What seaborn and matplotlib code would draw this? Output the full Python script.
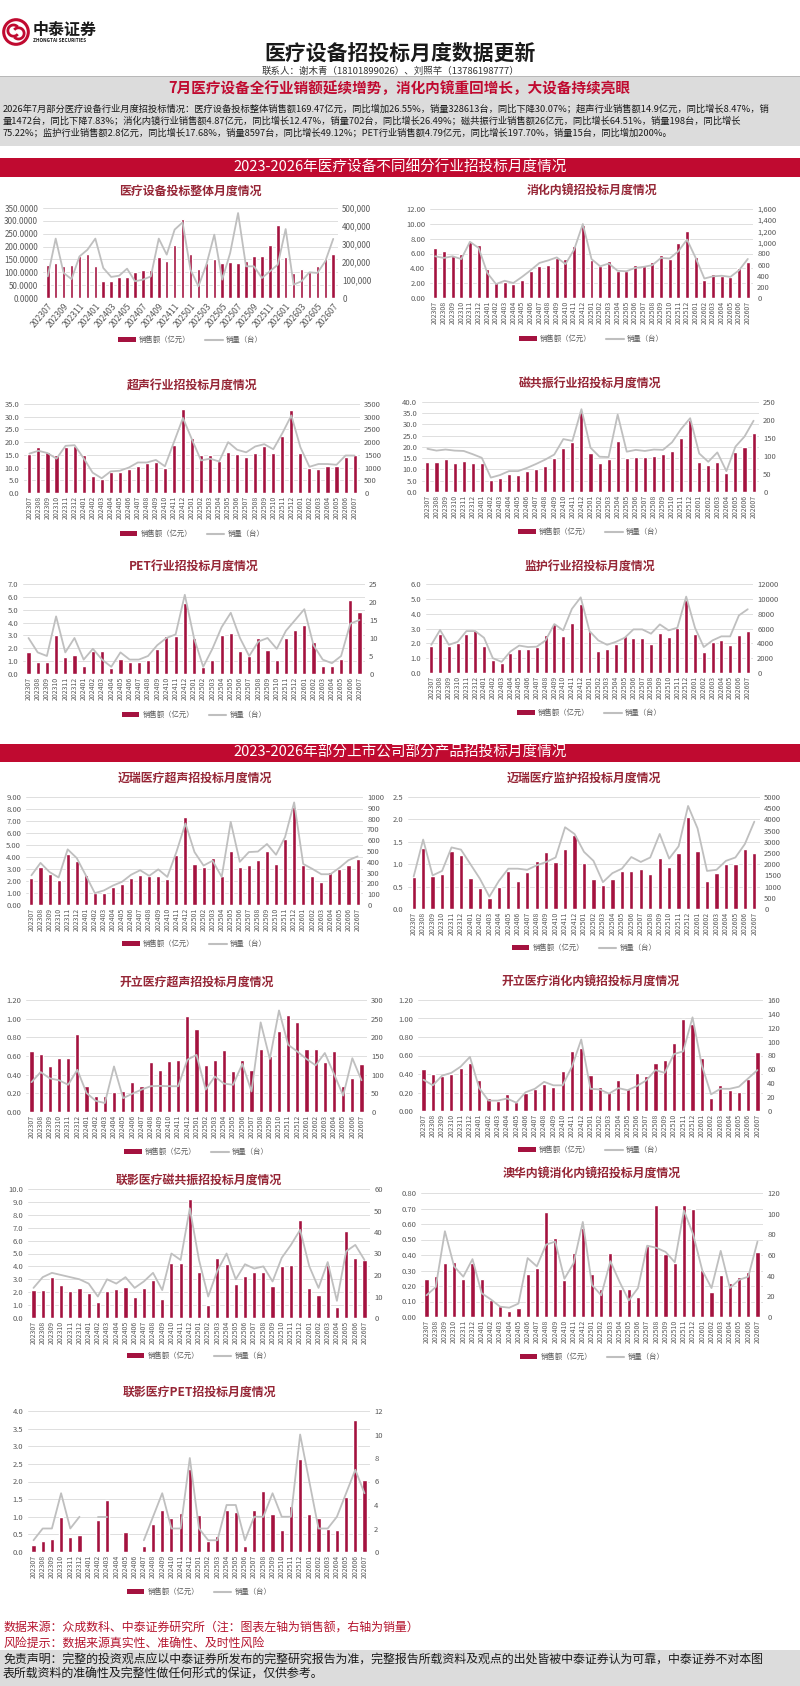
import numpy as np
import pandas as pd
import matplotlib
matplotlib.use("Agg")
import matplotlib.pyplot as plt
import seaborn as sns
from matplotlib.patches import Rectangle, Circle, Patch, Arc
from matplotlib.lines import Line2D
from matplotlib.ticker import FuncFormatter

sns.set_theme(style="white")
plt.rcParams['font.family'] = ['Noto Sans CJK SC', 'DejaVu Sans']
plt.rcParams['axes.unicode_minus'] = False

# ---------------- data ----------------
months = ["202307", "202308", "202309", "202310", "202311", "202312",
          "202401", "202402", "202403", "202404", "202405", "202406",
          "202407", "202408", "202409", "202410", "202411", "202412",
          "202501", "202502", "202503", "202504", "202505", "202506",
          "202507", "202508", "202509", "202510", "202511", "202512",
          "202601", "202602", "202603", "202604", "202605", "202606", "202607"]

total_amt = [128, 135, 125, 130, 165, 170, 123, 65, 65, 82, 80, 100, 108, 110, 160, 143, 208, 308,
             173, 112, 138, 150, 137, 140, 135, 145, 163, 165, 206, 285, 158, 98, 112, 103, 126, 155, 169.47]
total_qty = [120000, 330000, 139000, 105000, 231000, 268000, 330000, 167000, 117000, 124000, 163000, 93000,
             102000, 120000, 330000, 241000, 380000, 420000, 157000, 65000, 185000, 352000, 102000, 250000,
             472000, 176000, 176000, 111000, 148000, 185000, 383000, 74000, 93000, 143000, 139000, 204000, 328613]

endo_amt = [6.7, 6.4, 5.7, 6.0, 7.7, 7.2, 3.9, 2.1, 2.15, 1.9, 2.45, 3.6, 4.3, 4.5, 5.4, 5.2, 7.0, 9.8,
            5.1, 4.25, 5.0, 3.6, 3.7, 4.4, 4.25, 4.9, 5.8, 5.25, 7.35, 9.05, 5.5, 2.45, 3.2, 3.0, 2.8, 4.1, 4.87]
endo_qty = [750, 720, 750, 700, 1010, 900, 450, 250, 310, 270, 380, 500, 630, 675, 730, 610, 870, 1330,
            700, 570, 620, 490, 480, 540, 560, 590, 720, 710, 840, 1050, 720, 350, 390, 400, 380, 500, 702]

us_amt = [15.3, 18.1, 16.3, 14.8, 18.0, 18.5, 14.8, 6.8, 5.5, 8.4, 8.2, 9.3, 10.7, 11.7, 12.1, 9.9, 18.9, 32.9,
          21.5, 14.8, 15.0, 12.4, 16.3, 15.5, 14.0, 15.9, 18.3, 15.8, 22.5, 32.5, 15.8, 9.9, 9.3, 10.7, 10.7, 14.0, 14.9]
us_qty = [1550, 1660, 1570, 1350, 1855, 1880, 1370, 800, 580, 850, 875, 1000, 1200, 1200, 1300, 1050, 2000, 2950,
          2100, 1280, 1350, 1240, 2000, 1700, 1600, 1830, 1920, 1720, 2350, 3050, 1800, 1030, 1140, 1140, 1110, 1475, 1472]

mri_amt = [13.4, 13.3, 14.8, 13.0, 13.9, 12.7, 13.1, 5.5, 6.3, 7.8, 7.6, 9.4, 10.4, 11.5, 15.2, 19.4, 22.1, 35.4,
           17.5, 12.7, 14.6, 22.8, 15.2, 15.4, 15.7, 16.0, 16.7, 18.4, 23.9, 32.1, 13.4, 12.2, 13.3, 8.5, 17.6, 20.0, 26.0]
mri_qty = [120, 115, 118, 115, 114, 105, 95, 40, 47, 58, 58, 67, 78, 90, 104, 147, 142, 230,
           123, 98, 97, 215, 112, 117, 114, 118, 117, 138, 175, 205, 107, 84, 110, 58, 126, 154, 198]

pet_amt = [1.68, 0.9, 0.9, 3.05, 1.35, 1.5, 0.65, 1.8, 1.75, 0.5, 1.15, 0.9, 0.95, 1.05, 1.92, 2.93, 2.92, 5.55,
           2.77, 0.52, 1.12, 3.06, 3.2, 1.75, 1.38, 2.8, 1.9, 1.07, 2.8, 3.45, 3.82, 2.5, 0.6, 0.6, 1.2, 5.78, 4.79]
pet_qty = [10, 6, 5, 16, 6, 10, 4, 7, 4, 2, 6, 4, 4, 5, 8, 10, 11, 22,
           10, 2, 7, 13, 17, 10, 5, 9, 10, 7, 12, 15, 18, 8, 4, 3, 5, 14, 15]

mon_amt = [1.8, 2.6, 1.8, 2.0, 2.65, 2.9, 1.85, 0.9, 0.7, 1.35, 1.65, 1.6, 1.72, 2.55, 3.3, 2.47, 3.4, 4.67,
           2.8, 1.5, 1.65, 1.93, 2.52, 2.38, 2.38, 1.98, 2.67, 2.4, 3.05, 4.9, 2.66, 1.42, 2.1, 2.2, 1.88, 2.58, 2.8]
mon_qty = [3800, 5800, 3800, 4200, 5650, 5650, 4750, 2000, 1500, 2900, 3700, 3500, 3550, 4400, 6600, 5750, 8650, 10200,
           5650, 4400, 3800, 4200, 4750, 5880, 5880, 5300, 6550, 5750, 6100, 10300, 6100, 3500, 4400, 4940, 4940, 7770, 8597]

mindray_us_amt = [2.28, 3.15, 2.62, 2.12, 4.23, 3.68, 2.53, 1.03, 1.03, 1.5, 1.78, 2.28, 2.53, 2.4, 2.45, 2.17, 4.15, 7.3,
                  3.45, 3.15, 3.95, 2.4, 4.48, 3.2, 3.31, 3.73, 4.51, 3.4, 5.49, 8.19, 3.34, 2.45, 1.89, 2.76, 3.0, 3.37, 3.82]
mindray_us_qty = [275, 390, 305, 255, 515, 435, 275, 110, 135, 180, 215, 280, 322, 270, 330, 260, 490, 755,
                  490, 365, 410, 260, 770, 400, 490, 495, 565, 465, 630, 950, 380, 335, 285, 285, 345, 415, 450]

mindray_mon_amt = [0.72, 1.37, 0.73, 0.78, 1.29, 1.2, 0.70, 0.47, 0.24, 0.5, 0.85, 0.62, 0.82, 1.07, 1.27, 1.04, 1.33, 1.65,
                   1.03, 0.67, 0.53, 0.66, 0.85, 0.85, 0.89, 0.79, 1.13, 0.93, 1.26, 2.05, 1.3, 0.63, 0.81, 1.0, 1.0, 1.34, 1.26]
mindray_mon_qty = [1450, 3100, 1500, 1700, 2750, 2650, 2000, 1350, 550, 1250, 1800, 1800, 1750, 1950, 2100, 2300, 3650, 3350,
                   2550, 2150, 1200, 1600, 1800, 2320, 2100, 2300, 3350, 2250, 2800, 4600, 3600, 1700, 1750, 2150, 2300, 2900, 3900]

sono_us_amt = [0.65, 0.62, 0.495, 0.575, 0.58, 0.84, 0.28, 0.175, 0.175, 0.21, 0.22, 0.32, 0.28, 0.54, 0.445, 0.55, 0.56, 1.03,
               0.89, 0.5, 0.56, 0.665, 0.44, 0.555, 0.45, 0.68, 0.6, 0.87, 1.04, 0.96, 0.67, 0.68, 0.54, 0.65, 0.28, 0.36, 0.51]
sono_us_qty = [80, 107, 90, 85, 73, 113, 51, 30, 24, 122, 37, 49, 60, 69, 70, 69, 69, 140,
               153, 60, 95, 76, 73, 129, 55, 240, 142, 272, 180, 162, 142, 125, 158, 102, 44, 144, 85]

sono_endo_amt = [0.455, 0.405, 0.375, 0.4, 0.465, 0.52, 0.34, 0.14, 0.11, 0.18, 0.095, 0.19, 0.235, 0.29, 0.26, 0.435, 0.65, 0.68,
                 0.385, 0.26, 0.205, 0.33, 0.24, 0.415, 0.38, 0.515, 0.55, 0.73, 0.99, 0.945, 0.57, 0.14, 0.28, 0.23, 0.205, 0.35, 0.64]
sono_endo_qty = [45, 37, 51, 55, 64, 78, 33, 15, 15, 18, 12, 27, 32, 42, 37, 37, 64, 103,
                 32, 31, 25, 33, 30, 36, 44, 59, 55, 82, 86, 135, 66, 24, 32, 32, 35, 47, 59]

uih_mri_amt = [2.15, 2.18, 3.2, 2.57, 2.1, 2.33, 1.97, 1.27, 2.1, 2.23, 2.41, 1.66, 2.3, 2.98, 1.45, 4.25, 4.27, 9.2,
               3.6, 1.0, 4.64, 4.15, 2.67, 3.29, 3.6, 3.6, 2.51, 4.0, 4.07, 7.62, 2.31, 1.81, 4.1, 0.85, 6.71, 4.66, 4.5]
uih_mri_qty = [14, 19, 21, 20, 19, 18, 16, 10, 18, 16, 19, 14, 17, 21, 13, 30, 27, 51,
               27, 10, 22, 30, 18, 25, 23, 24, 17, 28, 34, 41, 24, 14, 26, 8, 31, 34, 27]

aohua_amt = [0.244, 0.267, 0.351, 0.354, 0.244, 0.347, 0.244, 0.11, 0.073, 0.041, 0.056, 0.278, 0.313, 0.677, 0.507, 0.237, 0.412, 0.573,
             0.276, 0.183, 0.41, 0.181, 0.179, 0.127, 0.46, 0.722, 0.405, 0.347, 0.722, 0.70, 0.304, 0.16, 0.272, 0.22, 0.26, 0.29, 0.42]
aohua_qty = [21, 29, 83, 49, 39, 56, 23, 17, 10, 9, 13, 57, 49, 70, 73, 37, 52, 92,
             31, 21, 54, 34, 16, 28, 69, 67, 63, 53, 103, 80, 45, 28, 64, 28, 36, 39, 73]

uih_pet_amt = [0.19, 0.32, 0.38, 0.99, 0.43, 0.48, 0, 0.9, 1.48, 0, 0.58, 0, 0.18, 0.8, 1.18, 0.97, 1.11, 2.36,
               1.06, 0.31, 0.46, 1.2, 1.14, 0.18, 1.19, 1.72, 1.08, 0.62, 1.3, 2.65, 1.09, 0.96, 0.65, 0.62, 1.57, 3.75, 2.03]
uih_pet_qty = [1, 2, 2, 5, 2, 3, np.nan, 3, 3, np.nan, np.nan, np.nan, 1, 3, 5, 2, 2, 8,
               2, 1, 1, 4, 4, 1, 3, 3, 5, 3, 3, 10, 6, 2, 2, 3, 5, 7, 5]

legend_labels = ["销售额（亿元）", "销量（台）"]

# ---------------- style ----------------
BAR = "#A4123F"
LINE = "#BFBFBF"
GRID = "#D9D9D9"
TICK = "#595959"
TITLE = "#962636"
RED = "#C00A30"

W, H = 800, 1686
fig = plt.figure(figsize=(8, 16.86), dpi=100)
fig.patch.set_facecolor("white")


def fx(x):
    return x / W


def fy(y):
    return 1 - y / H


def rect(x0, y0, x1, y1, **kw):
    fig.add_artist(Rectangle((fx(x0), fy(y1)), (x1 - x0) / W, (y1 - y0) / H,
                             transform=fig.transFigure, **kw))


# ---------------- header ----------------
lax = fig.add_axes([fx(2), fy(46), 28 / W, 28 / H])
lax.set_xlim(-1, 1)
lax.set_ylim(-1, 1)
lax.set_aspect("equal")
lax.axis("off")
lax.add_patch(Circle((0, 0), 0.88, fill=False, ec=RED, lw=2.2))
lax.add_patch(Arc((-0.18, 0.1), 0.8, 0.8, theta1=40, theta2=320, ec=RED, lw=2.0))
lax.add_patch(Arc((0.18, -0.1), 0.8, 0.8, theta1=220, theta2=140, ec=RED, lw=2.0))
fig.text(fx(33), fy(30), "中泰证券", fontsize=11.5, fontweight="bold", color="#1A1A1A", ha="left", va="center")
fig.text(fx(33), fy(40), "ZHONGTAI SECURITIES", fontsize=3.4, fontweight="bold", color="#1A1A1A", ha="left", va="center")

fig.text(0.5, fy(53), "医疗设备招投标月度数据更新", fontsize=15, fontweight="bold", color="#1A1A1A", ha="center", va="center")
fig.text(fx(390), fy(71), "联系人：谢木青（18101899026）、刘照芊（13786198777）", fontsize=6.8, color="#333333",
         ha="center", va="center")

rect(0, 76, 800, 146, facecolor="#DCDCDC", edgecolor="none")
rect(0, 76, 800, 77, facecolor="#B8B8B8", edgecolor="none")
fig.text(fx(399), fy(88), "7月医疗设备全行业销额延续增势，消化内镜重回增长，大设备持续亮眼", fontsize=10.5,
         fontweight="bold", color=RED, ha="center", va="center")
para = [
    "2026年7月部分医疗设备行业月度招投标情况：医疗设备投标整体销售额169.47亿元，同比增加26.55%，销量328613台，同比下降30.07%；超声行业销售额14.9亿元，同比增长8.47%，销",
    "量1472台，同比下降7.83%；消化内镜行业销售额4.87亿元，同比增长12.47%，销量702台，同比增长26.49%；磁共振行业销售额26亿元，同比增长64.51%，销量198台，同比增长",
    "75.22%；监护行业销售额2.8亿元，同比增长17.68%，销量8597台，同比增长49.12%；PET行业销售额4.79亿元，同比增长197.70%，销量15台，同比增加200%。",
]
for i, line in enumerate(para):
    fig.text(fx(3), fy(109 + 12 * i), line, fontsize=6.7, color="#1A1A1A", ha="left", va="center")

rect(0, 158, 800, 177, facecolor=RED, edgecolor="none")
fig.text(0.5, fy(167.5), "2023-2026年医疗设备不同细分行业招投标月度情况", fontsize=10.5, color="white",
         ha="center", va="center")
rect(0, 744, 800, 762, facecolor=RED, edgecolor="none")
fig.text(0.5, fy(753), "2023-2026年部分上市公司部分产品招投标月度情况", fontsize=10.5, color="white",
         ha="center", va="center")

# ---------------- charts ----------------
charts = [
    dict(title="医疗设备投标整体月度情况", amt=total_amt, qty=total_qty, box=(43, 208, 338, 298), ty=191, ly=340,
         l=(350, 50, "{:.4f}"), r=(500000, 100000, "{:,.0f}"), sparse=True),
    dict(title="消化内镜招投标月度情况", amt=endo_amt, qty=endo_qty, box=(430, 209, 753, 298), ty=191, ly=339,
         l=(12, 2, "{:.2f}"), r=(1600, 200, "{:,.0f}")),
    dict(title="超声行业招投标月度情况", amt=us_amt, qty=us_qty, box=(24, 404, 360, 493), ty=386, ly=534,
         l=(35, 5, "{:.1f}"), r=(3500, 500, "{:.0f}")),
    dict(title="磁共振行业招投标月度情况", amt=mri_amt, qty=mri_qty, box=(422, 402, 759, 492), ty=383, ly=532,
         l=(40, 5, "{:.1f}"), r=(250, 50, "{:.0f}")),
    dict(title="PET行业招投标月度情况", amt=pet_amt, qty=pet_qty, box=(23, 584, 365, 674), ty=566, ly=715,
         l=(7, 1, "{:.1f}"), r=(25, 5, "{:.0f}")),
    dict(title="监护行业招投标月度情况", amt=mon_amt, qty=mon_qty, box=(426, 584, 753, 673), ty=566, ly=713,
         l=(6, 1, "{:.1f}"), r=(12000, 2000, "{:.0f}")),
    dict(title="迈瑞医疗超声招投标月度情况", amt=mindray_us_amt, qty=mindray_us_qty, box=(26, 797, 363, 905), ty=778,
         ly=944, l=(9, 1, "{:.2f}"), r=(1000, 100, "{:.0f}")),
    dict(title="迈瑞医疗监护招投标月度情况", amt=mindray_mon_amt, qty=mindray_mon_qty, box=(408, 797, 760, 909), ty=778,
         ly=948, l=(2.5, 0.5, "{:.1f}"), r=(5000, 500, "{:.0f}")),
    dict(title="开立医疗超声招投标月度情况", amt=sono_us_amt, qty=sono_us_qty, box=(26, 1000, 367, 1112), ty=982,
         ly=1152, l=(1.2, 0.2, "{:.2f}"), r=(300, 50, "{:.0f}")),
    dict(title="开立医疗消化内镜招投标月度情况", amt=sono_endo_amt, qty=sono_endo_qty, box=(418, 1000, 763, 1111), ty=982,
         ly=1150, l=(1.2, 0.2, "{:.2f}"), r=(160, 20, "{:.0f}")),
    dict(title="联影医疗磁共振招投标月度情况", amt=uih_mri_amt, qty=uih_mri_qty, box=(28, 1189, 370, 1318), ty=1180,
         ly=1356, l=(10, 1, "{:.1f}"), r=(60, 10, "{:.0f}")),
    dict(title="澳华内镜消化内镜招投标月度情况", amt=aohua_amt, qty=aohua_qty, box=(421, 1193, 763, 1317), ty=1174,
         ly=1357, l=(0.8, 0.1, "{:.2f}"), r=(120, 20, "{:.0f}")),
    dict(title="联影医疗PET招投标月度情况", amt=uih_pet_amt, qty=uih_pet_qty, box=(28, 1411, 370, 1552), ty=1392,
         ly=1592, l=(4, 0.5, "{:.1f}"), r=(12, 2, "{:.0f}")),
]


def make_fmt(f):
    return FuncFormatter(lambda v, p: f.format(v))


def draw(c):
    x0, y0, x1, y1 = c["box"]
    n = len(months)
    idx = np.arange(n)
    ax = fig.add_axes([fx(x0), fy(y1), (x1 - x0) / W, (y1 - y0) / H])
    df = pd.DataFrame({"pos": idx, "amt": c["amt"]})
    sns.barplot(data=df, x="pos", y="amt", native_scale=True, color=BAR, saturation=1,
                width=0.45, errorbar=None, ax=ax)
    lmax, lstep, lf = c["l"]
    ax.set_ylim(0, lmax)
    ax.set_yticks(np.arange(0, lmax + lstep / 2, lstep))
    ax.yaxis.set_major_formatter(make_fmt(lf))
    ax.grid(axis="y", color=GRID, lw=0.6)
    ax.grid(axis="x", visible=False)
    ax.set_axisbelow(True)
    for s in ax.spines.values():
        s.set_visible(False)
    ax.set_xlabel("")
    ax.set_ylabel("")

    ax2 = ax.twinx()
    q = np.array(c["qty"], dtype=float)
    valid = ~np.isnan(q)
    start = None
    for i in range(n + 1):
        ok = i < n and valid[i]
        if ok and start is None:
            start = i
        elif not ok and start is not None:
            if i - start >= 2:
                sns.lineplot(x=idx[start:i], y=q[start:i], ax=ax2, color=LINE, linewidth=1.3)
            start = None
    rmax, rstep, rf = c["r"]
    ax2.set_ylim(0, rmax)
    ax2.set_yticks(np.arange(0, rmax + rstep / 2, rstep))
    ax2.yaxis.set_major_formatter(make_fmt(rf))
    ax2.grid(False)
    for s in ax2.spines.values():
        s.set_visible(False)
    ax2.set_xlabel("")
    ax2.set_ylabel("")
    ax.set_xlim(-0.6, n - 0.4)

    if c.get("sparse"):
        ax.set_xticks(idx[::2])
        ax.set_xticklabels(months[::2], rotation=50, ha="right", rotation_mode="anchor")
        ax.tick_params(axis="x", labelsize=6.2, pad=3)
        ax.tick_params(axis="y", labelsize=5.8)
        ax2.tick_params(axis="y", labelsize=5.8)
    else:
        ax.set_xticks(idx)
        ax.set_xticklabels(months, rotation=90)
        ax.tick_params(axis="x", labelsize=5.0, pad=2)
        ax.tick_params(axis="y", labelsize=5.5)
        ax2.tick_params(axis="y", labelsize=5.5)
    ax.tick_params(length=0, colors=TICK)
    ax2.tick_params(length=0, colors=TICK, pad=3)

    cx = (x0 + x1) / 2
    fig.text(fx(cx), fy(c["ty"]), c["title"], fontsize=8.6, fontweight="bold", color=TITLE,
             ha="center", va="center")
    handles = [Patch(facecolor=BAR, edgecolor="none"), Line2D([0], [0], color=LINE, lw=1.5)]
    fig.legend(handles, legend_labels, loc="center", bbox_to_anchor=(fx(cx), fy(c["ly"])), ncol=2,
               frameon=False, fontsize=5.3, handlelength=2.4, handleheight=0.6, columnspacing=2.0,
               handletextpad=0.4, labelcolor=TICK)


for c in charts:
    draw(c)

# ---------------- footer ----------------
fig.text(fx(3), fy(1628), "数据来源：众成数科、中泰证券研究所（注：图表左轴为销售额，右轴为销量）", fontsize=8.6,
         color="#B5142E", ha="left", va="center")
fig.text(fx(3), fy(1643), "风险提示：数据来源真实性、准确性、及时性风险", fontsize=8.6, color="#B5142E",
         ha="left", va="center")
rect(0, 1650, 800, 1686, facecolor="#DCDCDC", edgecolor="none")
fig.text(fx(3), fy(1659), "免责声明：完整的投资观点应以中泰证券所发布的完整研究报告为准，完整报告所载资料及观点的出处皆被中泰证券认为可靠，中泰证券不对本图",
         fontsize=8.6, color="#1A1A1A", ha="left", va="center")
fig.text(fx(3), fy(1674), "表所载资料的准确性及完整性做任何形式的保证，仅供参考。", fontsize=8.6, color="#1A1A1A",
         ha="left", va="center")

fig.savefig("out.png", dpi=100)
